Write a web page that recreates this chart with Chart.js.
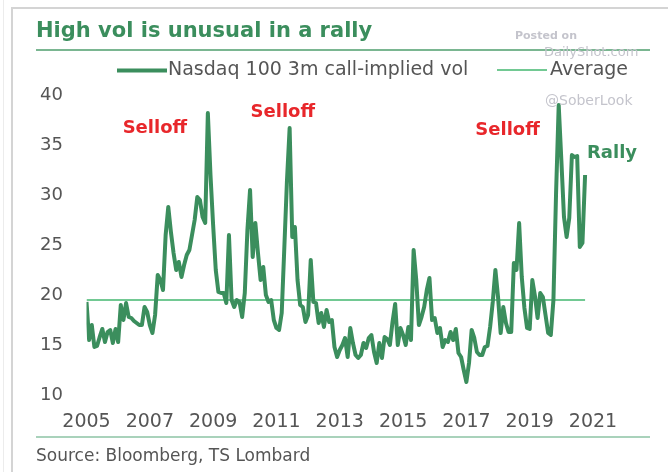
<!DOCTYPE html>
<html>
<head>
<meta charset="utf-8">
<title>High vol is unusual in a rally</title>
<script src="https://cdn.jsdelivr.net/npm/chart.js@4.4.1/dist/chart.umd.min.js"></script>
<style>
  html, body { margin: 0; padding: 0; background: #fff; }
</style>
</head>
<body>
<canvas id="myChart" width="668" height="472"></canvas>
<script>
// monthly points, Jan 2005 onwards
const startYear = 2005;
const xTickLabels = ['2005', '2007', '2009', '2011', '2013', '2015', '2017', '2019', '2021'];
const yTickLabels = ['10', '15', '20', '25', '30', '35', '40'];

const volValues = [
  19.3, 15.5, 17.0, 14.8, 14.9, 15.8, 16.6, 15.3, 16.3, 16.5, 15.2, 16.6,
  15.3, 19.0, 17.5, 19.2, 17.8, 17.7, 17.4, 17.2, 17.0, 17.0, 18.8, 18.3,
  17.0, 16.2, 18.0, 22.0, 21.5, 20.5, 26.0, 28.8, 26.3, 24.2, 22.5, 23.3,
  21.8, 23.0, 24.0, 24.5, 26.0, 27.5, 29.8, 29.5, 27.8, 27.2, 38.2, 32.0,
  27.0, 22.5, 20.3, 20.2, 20.2, 19.2, 26.0, 19.5, 18.8, 19.5, 19.3, 17.8,
  20.2, 26.5, 30.5, 23.8, 27.2, 24.2, 21.5, 22.8, 20.0, 19.3, 19.5, 17.5,
  16.7, 16.5, 18.2, 24.8, 31.5, 36.7, 25.8, 26.8, 21.5, 19.0, 18.8, 17.3,
  18.0, 23.5, 19.3, 19.2, 17.2, 18.2, 16.8, 18.5, 17.3, 17.5, 14.8, 13.8,
  14.5, 15.0, 15.7, 13.8, 16.7, 15.2, 14.0, 13.7, 14.0, 15.2, 14.7, 15.7,
  16.0, 14.3, 13.2, 15.2, 13.7, 15.8, 15.6, 15.0, 17.3, 19.1, 15.0, 16.7,
  16.0, 15.0, 16.8, 15.5, 24.5, 21.5, 17.0, 17.8, 18.8, 20.5, 21.7, 17.5,
  17.7, 16.2, 16.7, 14.8, 15.5, 15.3, 16.3, 15.5, 16.6, 14.2, 13.8, 12.5,
  11.3, 13.2, 16.5, 15.7, 14.3, 14.0, 14.0, 14.8, 14.9, 16.8, 19.3, 22.5,
  19.8, 16.2, 18.8, 17.2, 16.3, 16.3, 23.2, 22.5, 27.2, 21.8, 18.7, 16.7,
  16.6, 21.5, 19.9, 17.7, 20.2, 19.8, 18.0, 16.2, 16.0, 19.5, 30.2, 39.0,
  33.5, 27.8, 25.8, 27.7, 34.0, 33.8, 33.9, 24.8, 25.2, 32.0
];
const averageValue = 19.5;

const seriesNames = ['Nasdaq 100 3m call-implied vol', 'Average'];
const notes = [
  { text: 'Selloff', year: 2007.16, value: 36.7, color: '#e8272b' },
  { text: 'Selloff', year: 2011.2, value: 38.3, color: '#e8272b' },
  { text: 'Selloff', year: 2018.3, value: 36.5, color: '#e8272b' },
  { text: 'Rally', year: 2021.6, value: 34.2, color: '#3b8e5d' }
];

const months = volValues.map((v, i) => startYear + i / 12);
const lineGreen = '#3b8e5d';
const avgGreen = '#72c993';
const textGrey = '#555555';

const decor = {
  id: 'decor',
  afterDraw(chart) {
    const ctx = chart.ctx;
    const x = chart.scales.x, y = chart.scales.y;
    ctx.save();
    // frame of the screenshot
    ctx.strokeStyle = '#d4d4d4';
    ctx.lineWidth = 2;
    ctx.beginPath();
    ctx.moveTo(12, 472); ctx.lineTo(12, 8); ctx.lineTo(668, 8);
    ctx.stroke();
    ctx.strokeStyle = '#ececec';
    ctx.lineWidth = 1;
    ctx.beginPath();
    ctx.moveTo(3.5, 0); ctx.lineTo(3.5, 472);
    ctx.stroke();

    // title + rule
    ctx.fillStyle = lineGreen;
    ctx.font = "bold 21px 'DejaVu Sans'";
    ctx.textBaseline = 'alphabetic';
    ctx.textAlign = 'left';
    ctx.fillText('High vol is unusual in a rally', 36, 37);
    ctx.strokeStyle = '#4e9e6c';
    ctx.lineWidth = 1.5;
    ctx.beginPath();
    ctx.moveTo(36, 50); ctx.lineTo(650, 50);
    ctx.stroke();

    // legend
    ctx.lineCap = 'butt';
    ctx.strokeStyle = lineGreen;
    ctx.lineWidth = 4;
    ctx.beginPath(); ctx.moveTo(117, 70.5); ctx.lineTo(167, 70.5); ctx.stroke();
    ctx.strokeStyle = avgGreen;
    ctx.lineWidth = 2;
    ctx.beginPath(); ctx.moveTo(497, 70); ctx.lineTo(547, 70); ctx.stroke();
    ctx.fillStyle = textGrey;
    ctx.font = "19px 'DejaVu Sans'";
    ctx.textBaseline = 'middle';
    ctx.fillText(seriesNames[0], 168, 70);
    ctx.fillText(seriesNames[1], 550, 70);

    // watermarks
    ctx.fillStyle = '#c4c4cc';
    ctx.font = "bold 11px 'DejaVu Sans'";
    ctx.fillText('Posted on', 515, 36);
    ctx.font = "13px 'DejaVu Sans'";
    ctx.fillText('DailyShot.com', 544, 53);
    ctx.font = "14px 'DejaVu Sans'";
    ctx.fillText('@SoberLook', 545, 101);

    // annotations
    ctx.textAlign = 'center';
    ctx.font = "bold 18px 'DejaVu Sans'";
    notes.forEach(n => {
      ctx.fillStyle = n.color;
      ctx.fillText(n.text, x.getPixelForValue(n.year), y.getPixelForValue(n.value));
    });

    // footer
    ctx.strokeStyle = '#8dc3a4';
    ctx.lineWidth = 1.5;
    ctx.beginPath(); ctx.moveTo(36, 437); ctx.lineTo(650, 437); ctx.stroke();
    ctx.textAlign = 'left';
    ctx.fillStyle = textGrey;
    ctx.font = "17px 'DejaVu Sans'";
    ctx.fillText('Source: Bloomberg, TS Lombard', 36, 457);
    ctx.restore();
  }
};

const ctx = document.getElementById('myChart').getContext('2d');
const myChart = new Chart(ctx, {
  type: 'line',
  data: {
    datasets: [
      {
        label: seriesNames[0],
        data: months.map((m, i) => ({ x: m, y: volValues[i] })),
        borderColor: lineGreen,
        borderWidth: 4,
        pointRadius: 0,
        tension: 0,
        borderJoinStyle: 'round'
      },
      {
        label: seriesNames[1],
        data: [{ x: months[0], y: averageValue }, { x: months[months.length - 1], y: averageValue }],
        borderColor: avgGreen,
        borderWidth: 2,
        pointRadius: 0
      }
    ]
  },
  options: {
    responsive: false,
    devicePixelRatio: 1,
    animation: false,
    layout: { padding: { left: 26.5, right: 75, top: 95, bottom: 27 } },
    plugins: {
      legend: { display: false },
      title: { display: false },
      tooltip: { enabled: false }
    },
    scales: {
      x: {
        type: 'linear',
        min: 2005,
        max: 2021,
        grid: { display: false, drawTicks: false },
        border: { display: false },
        ticks: {
          stepSize: 2,
          padding: 16,
          maxRotation: 0,
          color: textGrey,
          font: { family: 'DejaVu Sans', size: 19 },
          callback: (v, i) => xTickLabels[i]
        },
        afterFit: (s) => { s.height = 50; s.paddingLeft = 0; s.paddingRight = 0; }
      },
      y: {
        min: 10,
        max: 40,
        grid: { display: false, drawTicks: false },
        border: { display: false },
        ticks: {
          stepSize: 5,
          padding: 23.5,
          color: textGrey,
          font: { family: 'DejaVu Sans', size: 18 },
          callback: (v, i) => yTickLabels[i]
        },
        afterFit: (s) => { s.width = 60; s.paddingTop = 0; s.paddingBottom = 0; }
      }
    }
  },
  plugins: [decor]
});
</script>
</body>
</html>
